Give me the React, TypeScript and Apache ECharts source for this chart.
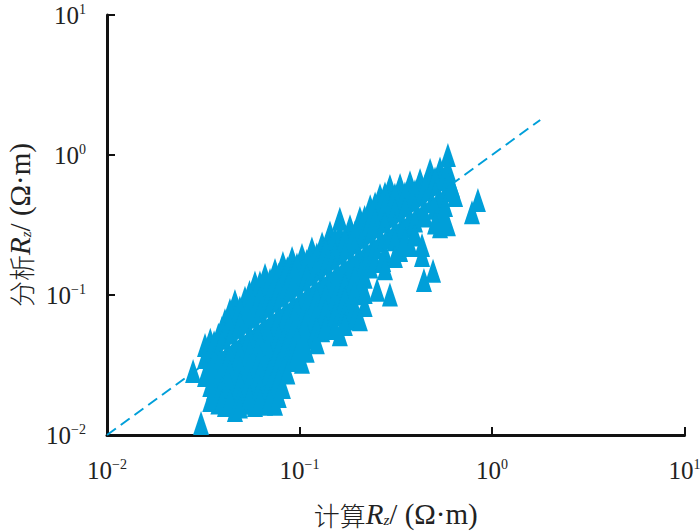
import React, { useEffect, useRef } from "react";
import * as echarts from "echarts";

type P = [number, number];
const column = (x: number, ys: number[]): P[] => ys.map((y) => [x, y] as P);

const lowerCluster: P[] = [
  ...column(0.0323, [0.044, 0.036, 0.0268]),
  ...column(0.0344, [0.048, 0.0373, 0.0291, 0.0228, 0.0178]),
  ...column(0.0379, [0.052, 0.0405, 0.0316, 0.0247, 0.0193, 0.0171]),
  ...column(0.041, [0.066, 0.054, 0.043, 0.0333, 0.0259, 0.0203, 0.0164]),
  ...column(0.0462, [0.0905, 0.071, 0.055, 0.0433, 0.0338, 0.0263, 0.0206, 0.0151]),
  ...column(0.0521, [0.0955, 0.074, 0.058, 0.0455, 0.0355, 0.0277, 0.0217, 0.017]),
  ...column(0.0587, [0.123, 0.097, 0.0755, 0.059, 0.0462, 0.036, 0.0282, 0.022, 0.0164]),
  ...column(0.0662, [0.139, 0.109, 0.085, 0.066, 0.052, 0.0405, 0.0316, 0.0247, 0.0193, 0.0167]),
  ...column(0.0746, [0.151, 0.118, 0.092, 0.072, 0.056, 0.044, 0.0343, 0.0268, 0.021, 0.0167]),
  ...column(0.082, [0.169, 0.132, 0.103, 0.08, 0.063, 0.0495, 0.0385, 0.03, 0.022]),
];

const lowerFill: P[] = [
  ...column(0.036, [0.046, 0.0355, 0.0275, 0.0215, 0.0185]),
  ...column(0.0395, [0.058, 0.047, 0.0365, 0.0285, 0.0222, 0.0175]),
  ...column(0.0435, [0.078, 0.061, 0.048, 0.0375, 0.029, 0.0228, 0.018]),
  ...column(0.049, [0.081, 0.063, 0.049, 0.0385, 0.03, 0.0235, 0.0185, 0.016]),
  ...column(0.055, [0.105, 0.083, 0.065, 0.051, 0.04, 0.031, 0.0245, 0.019]),
  ...column(0.0623, [0.123, 0.097, 0.075, 0.058, 0.046, 0.036, 0.028, 0.022, 0.018]),
  ...column(0.0703, [0.128, 0.1, 0.079, 0.062, 0.048, 0.0375, 0.029, 0.0228, 0.018]),
  ...column(0.078, [0.14, 0.11, 0.086, 0.067, 0.052, 0.041, 0.032, 0.025, 0.019]),
  ...column(0.0865, [0.155, 0.12, 0.095, 0.075, 0.058, 0.046, 0.036, 0.028]),
];

const middleCluster: P[] = [
  ...column(0.0915, [0.184, 0.143, 0.112, 0.087, 0.068, 0.0535, 0.0418, 0.0343]),
  ...column(0.103, [0.193, 0.151, 0.118, 0.092, 0.072, 0.056, 0.044, 0.0333]),
  ...column(0.116, [0.215, 0.169, 0.132, 0.103, 0.08, 0.063, 0.0495]),
  ...column(0.131, [0.233, 0.184, 0.143, 0.112, 0.087, 0.068, 0.056]),
  ...column(0.144, [0.28, 0.222, 0.17, 0.135, 0.103, 0.083, 0.063]),
  ...column(0.162, [0.35, 0.272, 0.213, 0.166, 0.13, 0.102, 0.079]),
  ...column(0.183, [0.31, 0.243, 0.19, 0.148, 0.115, 0.09, 0.071]),
  ...column(0.206, [0.355, 0.276, 0.215, 0.169, 0.132, 0.103]),
];

const middleFill: P[] = [
  ...column(0.097, [0.165, 0.13, 0.1, 0.08, 0.062, 0.049, 0.038]),
  ...column(0.109, [0.175, 0.138, 0.108, 0.085, 0.066, 0.052, 0.04]),
  ...column(0.123, [0.195, 0.155, 0.12, 0.095, 0.074, 0.058, 0.046]),
  ...column(0.137, [0.21, 0.165, 0.13, 0.1, 0.078, 0.06]),
  ...column(0.153, [0.255, 0.2, 0.155, 0.12, 0.095, 0.073, 0.058]),
  ...column(0.172, [0.255, 0.2, 0.155, 0.12, 0.095, 0.075, 0.062]),
  ...column(0.194, [0.28, 0.22, 0.175, 0.135, 0.105, 0.082, 0.068]),
  ...column(0.218, [0.36, 0.285, 0.22, 0.175, 0.135, 0.105, 0.085]),
];

const upperCluster: P[] = [
  ...column(0.233, [0.43, 0.338, 0.264, 0.206, 0.16]),
  ...column(0.262, [0.515, 0.405, 0.316, 0.247]),
  ...column(0.295, [0.6, 0.47, 0.37, 0.285]),
  ...column(0.333, [0.611, 0.477, 0.373, 0.291, 0.21]),
  ...column(0.375, [0.64, 0.49, 0.383, 0.31, 0.228]),
  ...column(0.423, [0.663, 0.518, 0.405]),
  ...column(0.477, [0.78, 0.64, 0.49]),
  ...column(0.537, [0.8, 0.65, 0.5, 0.405, 0.31]),
  ...column(0.59, [1.0, 0.795, 0.63, 0.32]),
  ...column(0.643, [0.518]),
];

const upperFill: P[] = [
  ...column(0.247, [0.45, 0.35, 0.275, 0.22, 0.175]),
  ...column(0.278, [0.53, 0.42, 0.33, 0.26, 0.2]),
  ...column(0.313, [0.52, 0.41, 0.32, 0.25, 0.19]),
  ...column(0.353, [0.53, 0.42, 0.33, 0.25]),
  ...column(0.398, [0.55, 0.43, 0.34, 0.27]),
  ...column(0.449, [0.6, 0.47, 0.37]),
  ...column(0.506, [0.68, 0.54, 0.42, 0.33]),
  ...column(0.57, [0.7, 0.56, 0.44, 0.35]),
  ...column(0.62, [0.6]),
];

const outliers: P[] = [
  [0.845, 0.477], [0.787, 0.39], [0.443, 0.128], [0.494, 0.149],
  [0.433, 0.228], [0.433, 0.193], [0.295, 0.101], [0.253, 0.109],
  [0.272, 0.178], [0.278, 0.155], [0.206, 0.067], [0.162, 0.0525],
  [0.028, 0.0286], [0.0308, 0.0122],
];

const oneToOne: P[] = [[0.01, 0.01], [1.78, 1.78]];
const specks: P[] = [[0.04, 0.04], [0.55, 0.55]];
const xTitle = "计算";
const yTitle = "分析";
const BLUE = "#009fd9";
const SERIF = "'Liberation Serif', serif";
const CJK = "'Noto Sans CJK SC', sans-serif";

const richTitle = {
  cjk: { fontFamily: CJK, fontSize: 26, fontWeight: 300, color: "#222", lineHeight: 26 },
  r: { fontFamily: SERIF, fontSize: 29, fontStyle: "italic", color: "#222", lineHeight: 26 },
  z: { fontFamily: SERIF, fontSize: 15, fontStyle: "italic", color: "#222", lineHeight: 14, verticalAlign: "bottom" },
  u: { fontFamily: SERIF, fontSize: 29, color: "#222", lineHeight: 26 },
};
const titleText = (s: string) => `{cjk|${s}}{r|R}{z|z}{u|/ (Ω·m)}`;
const tickLabel = (v: number) => {
  const e = Math.round(Math.log10(v));
  return `{b|10}{s|${e < 0 ? "−" + -e : e}}`;
};
const richTick = {
  b: { fontFamily: SERIF, fontSize: 25, color: "#222" },
  s: { fontFamily: SERIF, fontSize: 14, color: "#222", padding: [0, 0, 12, 0] },
};

const axisCommon = {
  type: "log" as const,
  logBase: 10,
  min: 0.01,
  max: 10,
  splitLine: { show: false },
  minorTick: { show: false },
  axisLine: { show: true, onZero: false, lineStyle: { color: "#111", width: 3 } },
  axisTick: { show: true, inside: true, length: 8, lineStyle: { color: "#111", width: 2 } },
  nameLocation: "middle" as const,
  nameTextStyle: { rich: richTitle },
};

export default function App() {
  const ref = useRef<HTMLDivElement>(null);
  useEffect(() => {
    const chart = echarts.init(ref.current!, undefined, { renderer: "svg" });
    chart.setOption({
      animation: false,
      backgroundColor: "#fff",
      grid: { left: 107, top: 15, width: 577.5, height: 420, containLabel: false, outerBoundsMode: "none" },
      xAxis: {
        ...axisCommon,
        name: titleText(xTitle),
        nameGap: 66,
        axisLabel: { formatter: tickLabel, rich: richTick, margin: 22, hideOverlap: false, showMinLabel: true, showMaxLabel: true },
      },
      yAxis: {
        ...axisCommon,
        name: titleText(yTitle),
        nameGap: 74,
        axisLabel: { formatter: tickLabel, rich: richTick, margin: 21, showMinLabel: true, showMaxLabel: true },
      },
      series: [
        {
          type: "scatter",
          data: [...lowerCluster, ...lowerFill, ...middleCluster, ...middleFill, ...upperCluster, ...upperFill, ...outliers],
          symbol: "triangle",
          symbolSize: [16, 24],
          clip: false,
          itemStyle: { color: BLUE, opacity: 1 },
          z: 2,
        },
        {
          type: "line",
          data: oneToOne,
          symbol: "none",
          lineStyle: { color: BLUE, width: 2, type: [11, 6] },
          z: 3,
        },
        {
          type: "line",
          data: specks,
          symbol: "none",
          lineStyle: { color: "#ffffff", width: 1, type: [1.5, 7.5] },
          z: 4,
        },
      ],
    });
    return () => chart.dispose();
  }, []);
  return (
    <div
      ref={ref}
      style={{ position: "absolute", left: 0, top: 0, width: 700, height: 531 }}
    />
  );
}
